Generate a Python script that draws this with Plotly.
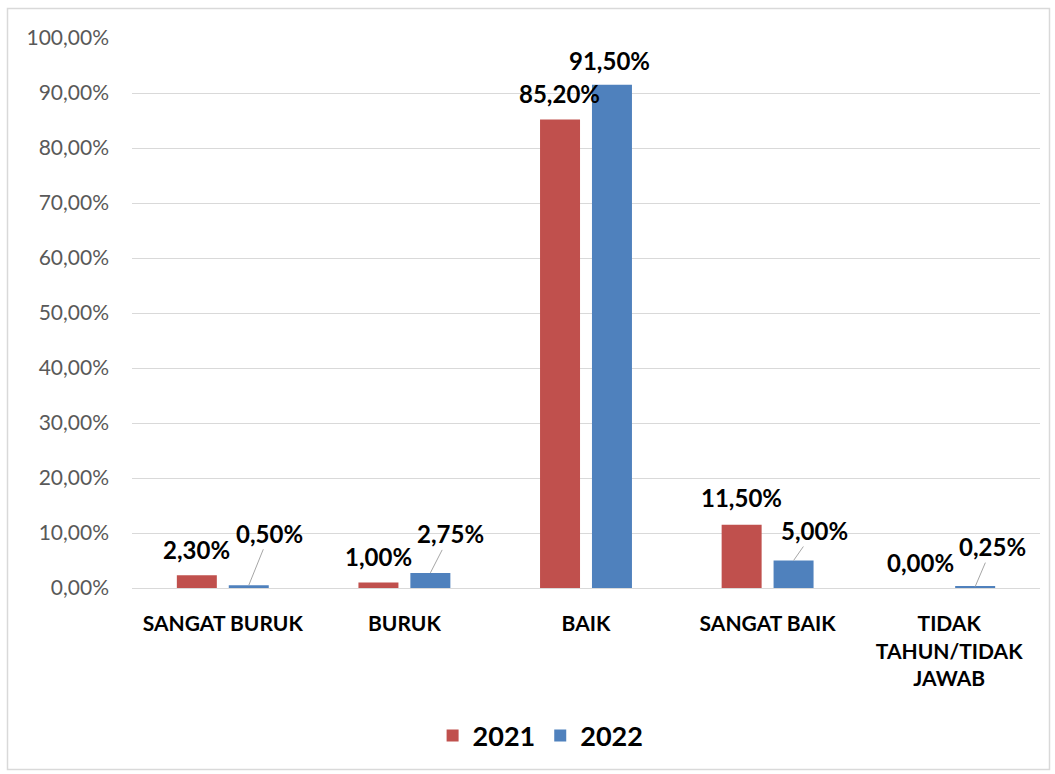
import plotly.graph_objects as go

categories = ["SANGAT BURUK", "BURUK", "BAIK", "SANGAT BAIK", "TIDAK<br>TAHUN/TIDAK<br>JAWAB"]
series_names = ["2021", "2022"]
values_2021 = [2.30, 1.00, 85.20, 11.50, 0.00]
values_2022 = [0.50, 2.75, 91.50, 5.00, 0.25]
y_ticks = [0, 10, 20, 30, 40, 50, 60, 70, 80, 90, 100]

colors = ["#C0504D", "#4F81BD"]
FONT = "Lato"
W, H = 1055, 774
ML, MR, MT, MB = 132, 15, 38, 186

def fmt(v):
    return f"{v:.2f}".replace(".", ",") + "%"

fig = go.Figure()
for name, vals, col in zip(series_names, [values_2021, values_2022], colors):
    fig.add_trace(go.Bar(x=categories, y=vals, name=name, marker_color=col,
                         marker_line_width=0))

BARGAP = 0.428
GROUPGAP = 0.23
slot = (1 - BARGAP) / 2
offsets = [-slot / 2, slot / 2]

# label placement: (leader?, ax, ay, xshift, yshift)
label_style_2021 = [(False, 0, 0, 0, 26), (False, 0, 0, 0, 26), (False, 0, 0, -1, 26),
                    (False, 0, 0, 0, 27), (False, 0, 0, -3, 26)]
label_style_2022 = [(True, 21, -52, 0, 0), (True, 20, -39, 0, 0), (False, 0, 0, -2, 24),
                    (True, 21, -30, 0, 0), (True, 17, -40, 0, 0)]

annotations = []
for s, (vals, styles) in enumerate(zip([values_2021, values_2022], [label_style_2021, label_style_2022])):
    for i, (v, st) in enumerate(zip(vals, styles)):
        leader, ax, ay, xs, ys = st
        a = dict(x=i + offsets[s], y=v, xref="x", yref="y", text=fmt(v),
                 font=dict(family=FONT, size=24, color="#000000", weight="bold"))
        if leader:
            a.update(showarrow=True, arrowhead=0, arrowwidth=1, arrowcolor="#A6A6A6",
                     ax=ax, ay=ay, axref="pixel", ayref="pixel", standoff=0)
        else:
            a.update(showarrow=False, xshift=xs, yshift=ys, yanchor="middle")
        annotations.append(a)

pw = W - ML - MR
ph = H - MT - MB
def px2paper_x(px):
    return (px - ML) / pw
def px2paper_y(py):
    return (H - MB - py) / ph

shapes = [dict(type="rect", xref="paper", yref="paper",
               x0=px2paper_x(7.5), x1=px2paper_x(1049.5),
               y0=px2paper_y(769.5), y1=px2paper_y(8.5),
               line=dict(color="#D9D9D9", width=1.5), fillcolor="rgba(0,0,0,0)", layer="below")]

fig.update_layout(
    width=W, height=H,
    margin=dict(l=ML, r=MR, t=MT, b=MB),
    paper_bgcolor="white", plot_bgcolor="white",
    barmode="group", bargap=BARGAP, bargroupgap=GROUPGAP,
    annotations=annotations, shapes=shapes,
    showlegend=True,
    legend=dict(orientation="h", x=0.45, xanchor="center", y=px2paper_y(736), yanchor="middle",
                font=dict(family=FONT, size=27, color="#000000", weight="bold"),
                itemwidth=30, traceorder="normal"),
    font=dict(family=FONT),
)
fig.update_yaxes(range=[0, 100], tickvals=y_ticks, ticktext=[fmt(t) for t in y_ticks],
                 showgrid=True, gridcolor="#D9D9D9", gridwidth=1,
                 zeroline=False, showline=False, ticks="",
                 ticklabelstandoff=22,
                 tickfont=dict(family=FONT, size=21, color="#595959"))
fig.update_xaxes(showgrid=False, showline=True, linecolor="#D9D9D9", linewidth=1, ticks="",
                 ticklabelstandoff=17,
                 tickfont=dict(family=FONT, size=21, color="#000000", weight="bold"))

fig.write_html("out.html")
